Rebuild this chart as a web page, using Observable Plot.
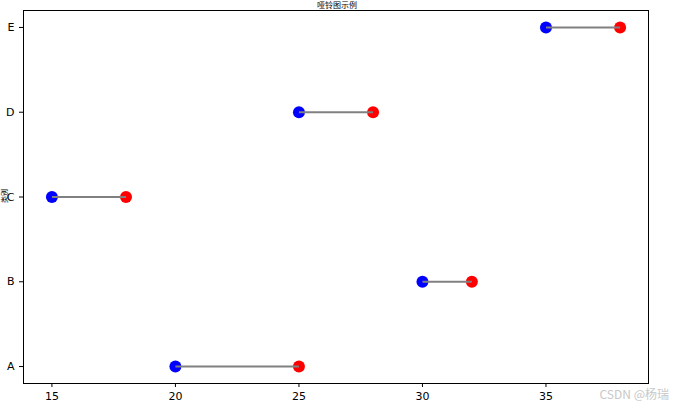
<!DOCTYPE html>
<html>
<head>
<meta charset="utf-8">
<script src="https://cdn.jsdelivr.net/npm/d3@7"></script>
<script src="https://cdn.jsdelivr.net/npm/@observablehq/plot@0.6"></script>
<style>
  html, body { margin: 0; padding: 0; background: #fff; }
  #wrap { position: relative; width: 674px; height: 407px; overflow: hidden; font-family: "DejaVu Sans", sans-serif; }
  #title { position: absolute; left: 0; width: 674px; top: 0px; line-height: 9px; text-align: center; font-size: 8px; font-family: "Noto Sans CJK SC", sans-serif; color: #000; }
  #ylabel { position: absolute; left: 4px; top: 196px; line-height: 7px; transform: translate(-50%, -50%) rotate(-90deg); font-size: 7px; font-family: "Noto Sans CJK SC", sans-serif; white-space: nowrap; color: #000; }
  #mark { position: absolute; right: 5px; top: 385px; font-size: 12px; color: #c8c8c8; font-family: "Noto Sans CJK SC", sans-serif; }
</style>
</head>
<body>
<div id="wrap">
  <div id="title">哑铃图示例</div>
  <div id="ylabel">类别</div>
  <div id="chart"></div>
  <div id="mark">CSDN @杨瑞</div>
</div>
<script>
const categories = ["A", "B", "C", "D", "E"];
const startValues = [20, 30, 15, 25, 35];
const endValues = [25, 32, 18, 28, 38];
const xTicks = [15, 20, 25, 30, 35];

const rows = categories.map((c, i) => ({cat: c, idx: i, start: startValues[i], end: endValues[i]}));

const chart = Plot.plot({
  width: 674,
  height: 407,
  marginLeft: 23,
  marginRight: 26,
  marginTop: 10,
  marginBottom: 24,
  style: {fontFamily: "DejaVu Sans, sans-serif", fontSize: "11px", color: "#000", background: "#fff"},
  x: {domain: [13.85, 39.15], ticks: xTicks, tickSize: 4, label: null},
  y: {domain: [-0.2, 4.2], ticks: categories.map((_, i) => i), tickFormat: i => categories[i], tickSize: 4, label: null},
  marks: [
    Plot.frame({stroke: "#000", strokeWidth: 1}),
    Plot.dot(rows, {x: "start", y: "idx", r: 6, fill: "#0000ff", stroke: null}),
    Plot.dot(rows, {x: "end", y: "idx", r: 6, fill: "#ff0000", stroke: null}),
    Plot.link(rows, {x1: "start", x2: "end", y1: "idx", y2: "idx", stroke: "#808080", strokeWidth: 2})
  ]
});
document.getElementById("chart").appendChild(chart);
</script>
</body>
</html>
